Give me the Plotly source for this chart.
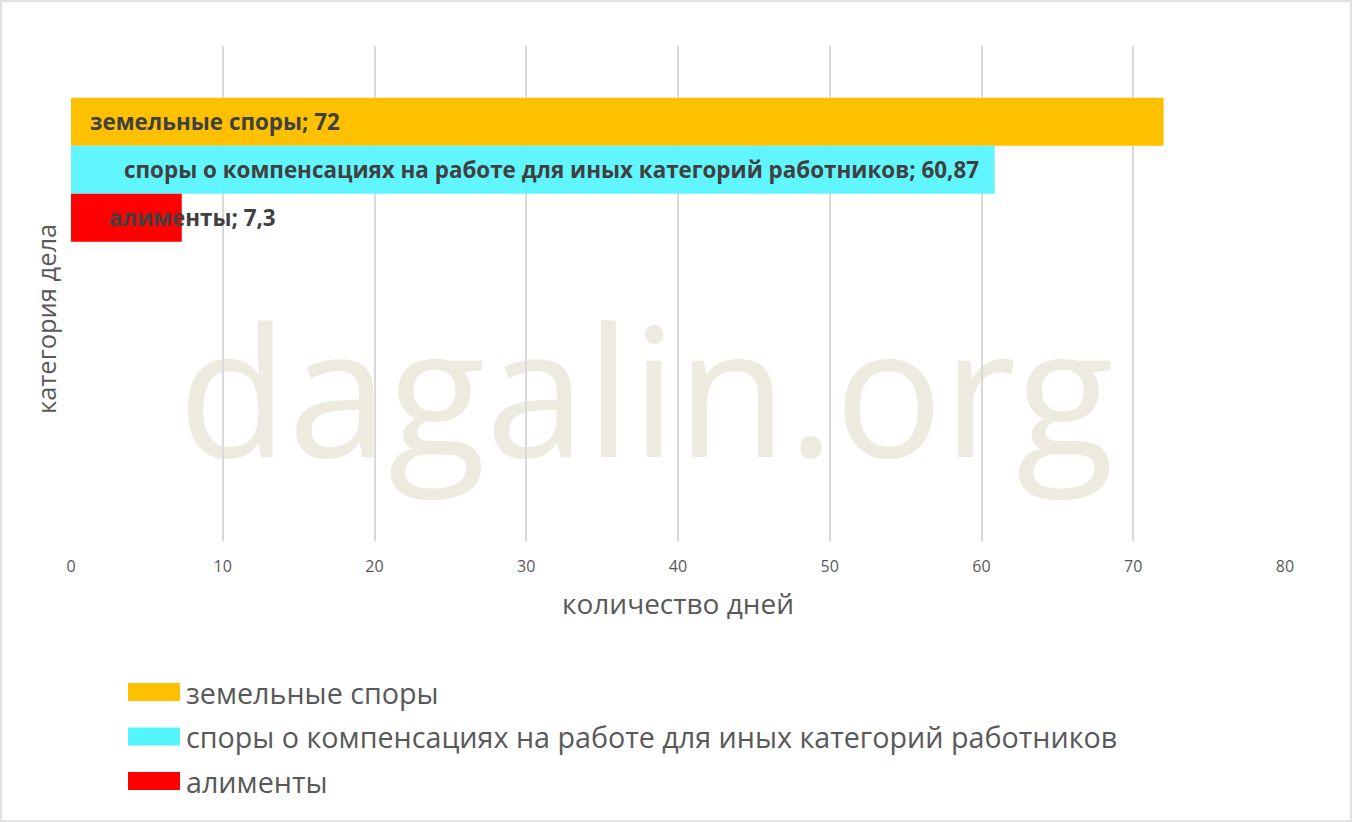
import plotly.graph_objects as go

series_names = ["земельные споры",
                "споры о компенсациях на работе для иных категорий работников",
                "алименты"]
series_values = [72, 60.87, 7.3]
series_labels = ["72", "60,87", "7,3"]
series_colors = ["#FFC000", "#55F5FD", "#FF0000"]
x_ticks = [0, 10, 20, 30, 40, 50, 60, 70, 80]

W, H = 1352, 822
ML, MR, MT, MB = 71, 67, 46, 281
PW, PH = W - ML - MR, H - MT - MB
FONT = "Open Sans"
GRAY = "#595959"

fig = go.Figure()
for name, val, col in zip(series_names, series_values, series_colors):
    fig.add_trace(go.Bar(
        y=[0], x=[val], orientation="h", name=name,
        marker=dict(color=col, line=dict(width=0)),
        opacity=0.93 if col == "#55F5FD" else 1.0,
        showlegend=False, hoverinfo="x+name",
    ))

# data labels
label_shift = [17, 51, 36]
y_shift = [48, 0, -48]
for name, lab, xs, ys in zip(series_names, series_labels, label_shift, y_shift):
    fig.add_annotation(x=0, y=0, xref="x", yref="y", text=f"<b>{name}; {lab}</b>",
                       showarrow=False, xanchor="left", yanchor="middle",
                       xshift=xs, yshift=ys,
                       font=dict(family=FONT, size=22.4, color="#404040"))

def px_x(p):
    return (p - ML) / PW
def px_y(p):
    return 1 - (p - MT) / PH

# watermark (below gridlines)
wm_cx, wm_cy = 646, 399
fig.add_shape(type="rect", xref="paper", yref="paper",
              x0=px_x(wm_cx - 600), x1=px_x(wm_cx + 600),
              y0=px_y(wm_cy + 150), y1=px_y(wm_cy - 150),
              layer="below", line=dict(width=0), fillcolor="rgba(0,0,0,0)",
              label=dict(text="dagalin.org", textposition="middle center",
                         font=dict(family=FONT, size=180, color="#EDEAE0")))

# custom legend
for i, (name, col) in enumerate(zip(series_names, series_colors)):
    cy = 692 + i * 44.5
    fig.add_shape(type="rect", xref="paper", yref="paper",
                  x0=px_x(128), x1=px_x(180), y0=px_y(cy + 9), y1=px_y(cy - 9),
                  fillcolor=col, line=dict(width=0))
    fig.add_annotation(xref="paper", yref="paper", x=px_x(184), y=px_y(cy),
                       text=name, showarrow=False, xanchor="left", yanchor="middle",
                       font=dict(family=FONT, size=28.7, color=GRAY))

# y axis title
fig.add_annotation(xref="paper", yref="paper", x=px_x(46), y=px_y(319),
                   text="категория дела", textangle=-90, showarrow=False,
                   xanchor="center", yanchor="middle",
                   font=dict(family=FONT, size=25.5, color=GRAY))

# outer border
fig.add_shape(type="rect", xref="paper", yref="paper",
              x0=px_x(1), x1=px_x(W - 1), y0=px_y(H - 1), y1=px_y(1),
              line=dict(color="#D9D9D9", width=1.5), fillcolor="rgba(0,0,0,0)")

fig.update_layout(
    width=W, height=H,
    margin=dict(l=ML, r=MR, t=MT, b=MB, pad=0),
    paper_bgcolor="white", plot_bgcolor="white",
    barmode="group", bargap=0.418, bargroupgap=0,
    font=dict(family=FONT, color=GRAY),
    xaxis=dict(range=[0, 80], tickvals=x_ticks, ticktext=[str(t) for t in x_ticks],
               showgrid=True, gridcolor="#D9D9D9", gridwidth=1.5,
               zeroline=False, showline=False, ticks="",
               ticklabelstandoff=14,
               tickfont=dict(family=FONT, size=16, color=GRAY),
               title=dict(text="количество дней", standoff=18,
                          font=dict(family=FONT, size=28, color=GRAY))),
    yaxis=dict(range=[1.5, -0.5], showticklabels=False, showgrid=False,
               zeroline=False, showline=False, ticks=""),
    showlegend=False,
)

fig.write_html("out.html", config={"displayModeBar": False},
               post_script="document.body.style.margin='0';document.body.style.overflow='hidden';")
